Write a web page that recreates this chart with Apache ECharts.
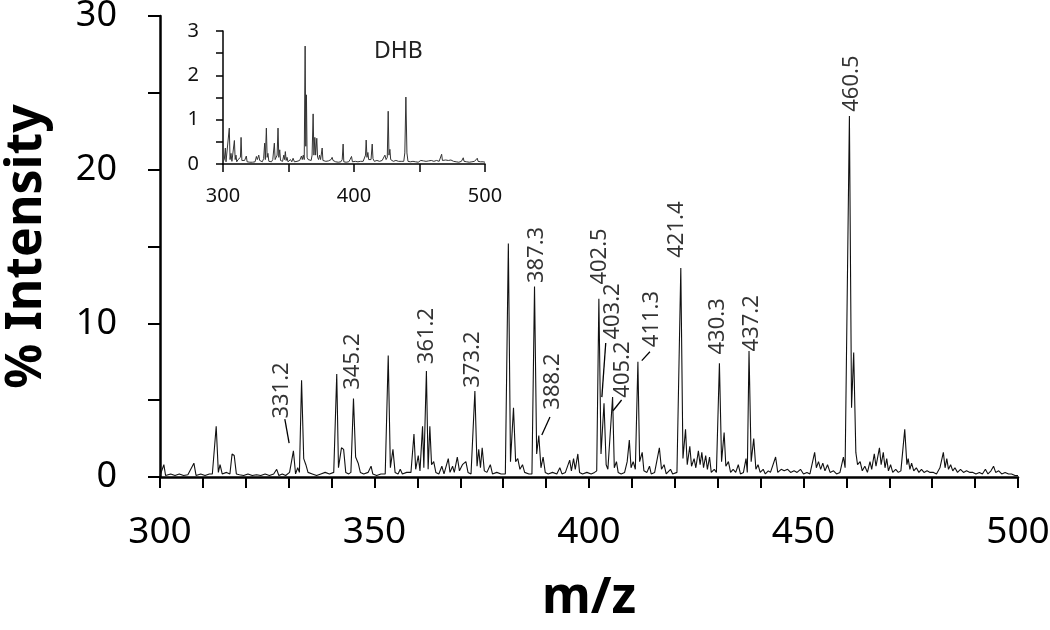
<!DOCTYPE html>
<html>
<head>
<meta charset="utf-8">
<script src="https://cdn.jsdelivr.net/npm/echarts@6/dist/echarts.min.js"></script>
<style>html,body{margin:0;padding:0;background:#fff;}#c{width:1050px;height:630px;}</style>
</head>
<body>
<div id="c"></div>
<script>
// Main spectrum: [m/z, % intensity]
const mainSpectrum = [
[300.0,0.1],[300.9,0.8],[301.3,0.1],[302.5,0.2],[303.5,0.1],[304.5,0.2],[305.5,0.1],[306.5,0.15],[307.9,0.9],[308.4,0.1],
[309.5,0.2],[310.5,0.1],[311.5,0.2],[312.2,0.2],[313.1,3.3],[313.6,0.3],[314.0,0.8],[314.5,0.2],[315.5,0.3],[316.3,0.2],
[316.8,1.5],[317.3,1.4],[317.8,0.2],[318.5,0.15],[319.5,0.1],[320.5,0.2],[321.5,0.1],[322.5,0.15],[323.5,0.1],[324.5,0.2],
[325.5,0.1],[326.5,0.2],[327.2,0.5],[327.7,0.1],[328.5,0.2],[329.3,0.1],[330.2,0.3],[330.5,0.2],[331.1,1.7],[331.6,0.2],
[332.1,0.6],[332.5,0.3],[333.0,6.3],[333.5,1.2],[334.0,0.8],[334.5,0.3],[335.5,0.2],[336.5,0.1],[337.5,0.2],[338.5,0.3],
[339.5,0.2],[340.5,0.3],[341.2,6.7],[341.6,0.6],[342.3,1.9],[342.8,1.8],[343.3,0.3],[344.0,0.2],[344.5,0.3],[345.1,5.1],
[345.6,1.3],[346.2,0.9],[346.7,0.3],[347.5,0.2],[348.5,0.3],[349.2,0.7],[349.6,0.2],[350.5,0.1],[351.5,0.2],[352.5,0.2],
[353.2,7.9],[353.7,0.6],[354.3,1.8],[354.8,0.3],[355.5,0.2],[356.0,0.5],[356.5,0.2],[357.5,0.3],[358.5,0.3],[359.2,2.8],
[359.6,0.5],[360.2,1.4],[360.6,0.4],[361.2,3.3],[361.5,0.6],[362.1,6.9],[362.5,0.5],[362.9,3.3],[363.3,0.8],[363.8,1.0],
[364.3,0.3],[365.0,0.2],[365.7,0.7],[366.2,0.2],[367.2,1.2],[367.6,0.3],[368.2,0.7],[368.6,0.3],[369.3,1.3],[369.8,0.4],
[370.5,0.8],[371.3,1.0],[371.8,0.3],[372.5,0.2],[373.4,5.6],[373.9,0.7],[374.3,1.8],[374.7,0.6],[375.1,1.9],[375.6,0.4],
[376.2,0.3],[377.0,0.8],[377.5,0.2],[378.5,0.3],[379.5,0.2],[380.5,0.2],[381.2,15.2],[381.7,1.0],[382.4,4.5],[382.9,1.0],
[383.4,1.2],[383.9,0.5],[384.5,0.8],[385.0,0.3],[386.0,0.2],[386.7,0.2],[387.3,12.4],[387.8,1.5],[388.3,2.7],[388.8,0.6],
[389.3,1.3],[389.8,0.3],[390.5,0.2],[391.5,0.3],[392.5,0.2],[393.2,0.6],[393.7,0.2],[394.5,0.3],[395.5,1.1],[395.9,0.4],
[396.4,1.2],[396.8,0.5],[397.4,1.5],[397.8,0.3],[398.5,0.2],[399.5,0.3],[400.5,0.2],[401.3,0.3],[401.8,0.4],[402.3,11.6],
[402.8,1.5],[403.5,4.8],[404.0,0.8],[404.4,0.5],[405.5,5.2],[405.9,0.6],[406.4,1.0],[406.8,0.3],[407.5,0.2],[408.3,0.3],
[408.9,1.0],[409.4,2.4],[409.8,0.6],[410.3,1.0],[410.8,0.5],[411.4,7.5],[411.8,1.0],[412.4,1.6],[412.8,0.4],[413.5,0.3],
[414.1,0.7],[414.5,0.2],[415.3,0.3],[416.4,1.9],[416.9,0.5],[417.5,0.8],[418.0,0.2],[419.0,0.5],[419.5,0.2],[420.5,0.3],
[421.4,13.6],[421.9,1.2],[422.5,3.1],[422.9,0.8],[423.5,2.0],[423.9,0.7],[424.5,1.2],[424.9,0.6],[425.5,1.7],[425.9,0.8],
[426.3,1.6],[426.7,0.6],[427.2,1.4],[427.6,0.5],[428.1,1.3],[428.5,0.3],[429.2,0.5],[429.7,0.3],[430.4,7.4],[430.9,1.0],
[431.5,2.9],[431.9,0.7],[432.5,1.0],[433.0,0.3],[433.6,0.5],[434.2,0.3],[434.8,0.8],[435.3,0.2],[436.0,0.3],[436.6,1.2],
[436.9,0.3],[437.3,8.2],[437.8,1.0],[438.4,2.5],[438.9,0.5],[439.4,0.8],[439.9,0.3],[440.6,0.5],[441.1,0.2],[441.8,0.4],
[442.3,0.3],[443.5,1.3],[444.0,0.3],[444.8,0.5],[445.5,0.4],[446.3,0.5],[447.0,0.3],[447.8,0.4],[448.5,0.3],[449.3,0.5],
[450.0,0.2],[450.8,0.3],[451.5,0.2],[452.6,1.6],[453.0,0.6],[453.5,1.0],[454.0,0.5],[454.5,0.9],[455.0,0.4],[455.6,0.8],
[456.2,0.3],[457.0,0.4],[457.7,0.2],[458.5,0.3],[459.3,1.3],[459.7,0.6],[460.7,23.5],[461.2,4.5],[461.7,8.1],[462.2,1.6],
[462.6,0.8],[463.2,1.0],[463.7,0.4],[464.3,0.7],[464.9,0.3],[465.5,1.0],[465.9,0.5],[466.5,1.5],[466.9,0.7],[467.7,1.9],
[468.1,0.8],[468.6,1.6],[469.0,0.6],[469.4,1.2],[469.8,0.4],[470.3,0.8],[470.8,0.3],[471.5,0.5],[472.1,0.3],[472.7,0.4],
[473.6,3.1],[474.1,0.8],[474.4,1.2],[474.8,0.5],[475.2,0.9],[475.7,0.4],[476.3,0.6],[476.9,0.3],[477.5,0.5],[478.1,0.3],
[478.8,0.4],[479.5,0.3],[480.3,0.3],[481.0,0.2],[481.8,0.6],[482.6,1.6],[483.0,0.6],[483.4,1.2],[483.8,0.5],[484.3,0.8],
[484.8,0.4],[485.3,0.6],[485.9,0.3],[486.6,0.5],[487.3,0.3],[488.0,0.4],[488.8,0.3],[489.5,0.3],[490.2,0.2],[491.0,0.3],
[491.7,0.2],[492.4,0.5],[493.0,0.2],[493.7,0.4],[494.3,0.7],[494.8,0.3],[495.5,0.4],[496.2,0.2],[497.0,0.3],[497.8,0.2],
[498.5,0.2],[499.3,0.1],[500.0,0.1]
];

// Inset (DHB) spectrum: [m/z, % intensity]
const insetSpectrum = [
[300.0,0.05],[301.0,0.1],[301.8,0.36],[302.3,0.05],[303.5,0.08],[304.8,0.81],[305.4,0.1],[306.1,0.24],[306.8,0.06],[307.8,0.1],
[308.7,0.53],[309.3,0.1],[309.9,0.2],[310.5,0.05],[311.5,0.1],[312.3,0.08],[313.3,0.15],[313.8,0.6],[314.4,0.08],[315.5,0.05],
[316.5,0.08],[317.8,0.18],[318.4,0.05],[319.5,0.06],[320.5,0.04],[321.5,0.08],[322.5,0.04],[323.5,0.07],[324.5,0.05],[325.5,0.17],
[326.2,0.1],[327.3,0.2],[328.0,0.08],[329.0,0.1],[330.0,0.05],[331.0,0.12],[331.8,0.47],[332.3,0.1],[333.1,0.81],[333.7,0.15],
[334.3,0.24],[335.0,0.06],[336.0,0.08],[337.0,0.05],[338.0,0.1],[339.2,0.47],[339.8,0.1],[340.5,0.06],[341.3,0.2],[342.0,0.81],
[342.6,0.15],[343.3,0.32],[343.9,0.08],[344.8,0.1],[345.5,0.06],[346.4,0.2],[347.0,0.1],[347.6,0.28],[348.2,0.08],[348.9,0.15],
[349.6,0.05],[350.5,0.06],[351.5,0.1],[352.5,0.05],[353.5,0.13],[354.5,0.05],[355.5,0.08],[356.5,0.06],[357.5,0.1],[358.5,0.08],
[359.3,0.12],[359.9,0.18],[360.5,0.1],[361.3,0.2],[362.0,0.1],[362.7,2.66],[363.2,0.4],[363.7,1.56],[364.2,0.15],[365.0,0.1],
[365.8,0.08],[366.5,0.1],[367.3,0.08],[368.0,0.2],[368.8,1.13],[369.4,0.2],[370.1,0.6],[370.7,0.2],[371.6,0.58],[372.2,0.15],
[373.0,0.1],[373.7,0.2],[374.5,0.1],[375.7,0.36],[376.3,0.08],[377.5,0.05],[378.5,0.06],[379.5,0.05],[380.5,0.07],[381.5,0.05],
[382.5,0.1],[383.3,0.15],[384.0,0.08],[385.0,0.12],[386.0,0.05],[387.0,0.06],[388.0,0.04],[389.0,0.06],[390.0,0.05],[391.0,0.1],
[391.7,0.45],[392.2,0.05],[393.0,0.06],[394.0,0.04],[395.0,0.08],[396.0,0.05],[397.0,0.1],[398.1,0.17],[398.8,0.05],[400.0,0.04],
[401.0,0.06],[402.0,0.04],[403.0,0.05],[404.0,0.04],[405.0,0.06],[406.0,0.05],[407.0,0.06],[408.0,0.1],[408.8,0.2],[409.3,0.54],
[409.9,0.15],[410.6,0.26],[411.2,0.1],[412.0,0.08],[413.0,0.1],[413.9,0.45],[414.5,0.12],[415.5,0.06],[416.5,0.05],[417.5,0.08],
[418.5,0.05],[419.5,0.06],[420.5,0.04],[421.5,0.08],[422.5,0.05],[423.6,0.2],[424.5,0.1],[425.4,0.15],[426.1,1.19],[426.7,0.2],
[427.4,0.33],[428.0,0.1],[429.0,0.08],[430.0,0.06],[431.0,0.05],[432.0,0.08],[433.0,0.05],[434.0,0.06],[435.0,0.04],[436.0,0.06],
[437.0,0.05],[438.0,0.06],[438.8,0.25],[439.6,1.51],[440.4,0.25],[441.2,0.06],[442.0,0.04],[443.0,0.05],[444.0,0.04],[445.0,0.06],
[446.0,0.04],[447.0,0.05],[448.0,0.06],[449.0,0.04],[450.0,0.05],[451.0,0.08],[452.0,0.05],[453.0,0.07],[454.0,0.05],[455.0,0.06],
[456.0,0.04],[457.0,0.07],[458.0,0.05],[459.0,0.08],[460.0,0.05],[461.0,0.06],[462.0,0.04],[463.0,0.08],[464.0,0.05],[465.0,0.06],
[466.0,0.08],[466.9,0.22],[467.5,0.08],[468.2,0.1],[469.0,0.06],[470.0,0.09],[471.0,0.05],[472.0,0.08],[473.0,0.06],[474.0,0.09],
[475.0,0.05],[476.0,0.06],[477.0,0.08],[478.0,0.05],[479.0,0.07],[480.0,0.04],[481.0,0.08],[482.0,0.06],[483.4,0.14],[484.0,0.06],
[485.0,0.08],[486.0,0.05],[487.0,0.06],[488.0,0.04],[489.0,0.06],[490.0,0.05],[491.0,0.08],[492.0,0.06],[493.0,0.08],[494.1,0.13],
[494.7,0.06],[495.5,0.1],[496.5,0.05],[497.5,0.07],[498.5,0.05],[499.5,0.08],[500.0,0.04]
];

// Peak annotation texts and their (text-centre) positions in data units
const peakLabels = ['331.2','345.2','361.2','373.2','387.3','388.2','402.5','403.2','405.2','411.3','421.4','430.3','437.2','460.5'];
const labelMz    = [328.4, 344.9, 362.2, 373.0, 387.9, 391.6, 402.4, 405.6, 407.9, 414.6, 420.4, 430.0, 437.9, 461.2];
const labelInt   = [5.63, 7.51, 9.17, 7.64, 14.45, 6.21, 14.35, 10.77, 6.99, 10.28, 16.1, 9.8, 10.0, 25.6];

// Leader lines from label to peak: [[mz1,int1],[mz2,int2]]
const leaderLines = [
  [[329.1,3.77],[330.1,2.21]],
  [[390.9,3.90],[389.0,2.73]],
  [[403.9,8.72],[403.0,5.2]],
  [[407.6,5.01],[405.6,4.31]],
  [[414.2,8.15],[412.3,7.57]]
];

const mainXTicks = [300, 350, 400, 450, 500];
const mainYTicks = [0, 10, 20, 30];
const insetXTicks = [300, 400, 500];
const insetYTicks = [0, 1, 2, 3];

const FONT = '"Noto Sans", "Open Sans", sans-serif';
const chart = echarts.init(document.getElementById('c'), null, {renderer: 'canvas'});

const option = {
  animation: false,
  backgroundColor: '#ffffff',
  title: {
    text: 'DHB', left: 369, top: 35,
    textStyle: {fontFamily: FONT, fontSize: 23, fontWeight: 'normal', color: '#222'}
  },
  grid: [
    {left: 160, top: 16, width: 858, height: 461, outerBoundsMode: 'none', containLabel: false},
    {left: 223, top: 31, width: 262, height: 133, outerBoundsMode: 'none', containLabel: false}
  ],
  xAxis: [
    {
      gridIndex: 0, type: 'value', min: 300, max: 500, interval: 10,
      name: 'm/z', nameLocation: 'middle', nameGap: 97,
      nameTextStyle: {fontFamily: FONT, fontSize: 50, fontWeight: 'bold', color: '#000'},
      axisLine: {show: true, onZero: false, lineStyle: {color: '#000', width: 2.5}},
      axisTick: {show: true, inside: false, length: 11, lineStyle: {color: '#000', width: 2}},
      axisLabel: {
        margin: 37, fontFamily: FONT, fontSize: 37, color: '#000',
        formatter: v => mainXTicks.includes(v) ? String(v) : ''
      },
      splitLine: {show: false}
    },
    {
      gridIndex: 1, type: 'value', min: 300, max: 500, interval: 50,
      axisLine: {show: true, onZero: false, lineStyle: {color: '#000', width: 1.5}},
      axisTick: {show: true, length: 8, lineStyle: {color: '#000', width: 1.5}},
      axisLabel: {
        margin: 22, fontFamily: FONT, fontSize: 20, color: '#111',
        formatter: v => insetXTicks.includes(v) ? String(v) : ''
      },
      splitLine: {show: false}
    }
  ],
  yAxis: [
    {
      gridIndex: 0, type: 'value', min: 0, max: 30, interval: 5,
      name: '% Intensity', nameLocation: 'middle', nameGap: 108, nameRotate: 90,
      nameTextStyle: {fontFamily: FONT, fontSize: 50, fontWeight: 'bold', color: '#000'},
      axisLine: {show: true, onZero: false, lineStyle: {color: '#000', width: 2.5}},
      axisTick: {show: true, length: 12, lineStyle: {color: '#000', width: 2}},
      axisLabel: {
        margin: 43, fontFamily: FONT, fontSize: 36, color: '#000',
        formatter: v => mainYTicks.includes(v) ? String(v) : ''
      },
      splitLine: {show: false}
    },
    {
      gridIndex: 1, type: 'value', min: 0, max: 3, interval: 0.5,
      axisLine: {show: true, onZero: false, lineStyle: {color: '#000', width: 1.5}},
      axisTick: {show: true, length: 7, lineStyle: {color: '#000', width: 1.5}},
      axisLabel: {
        margin: 24, fontFamily: FONT, fontSize: 20, color: '#111',
        formatter: v => insetYTicks.includes(v) ? String(v) : ''
      },
      splitLine: {show: false}
    }
  ],
  series: [
    {
      type: 'line', xAxisIndex: 0, yAxisIndex: 0, data: mainSpectrum,
      symbol: 'none', smooth: false,
      lineStyle: {color: '#111', width: 1.1}
    },
    {
      type: 'line', xAxisIndex: 1, yAxisIndex: 1, data: insetSpectrum,
      symbol: 'none', smooth: false,
      lineStyle: {color: '#333', width: 1}
    },
    {
      type: 'lines', coordinateSystem: 'cartesian2d', xAxisIndex: 0, yAxisIndex: 0,
      polyline: false, symbol: 'none',
      lineStyle: {color: '#000', width: 1.3, opacity: 1},
      data: leaderLines.map(c => ({coords: c}))
    },
    {
      type: 'scatter', xAxisIndex: 0, yAxisIndex: 0, symbolSize: 1,
      itemStyle: {color: 'rgba(0,0,0,0)'},
      label: {
        show: true, position: 'inside', rotate: 90, formatter: '{b}',
        fontFamily: FONT, fontSize: 22, color: '#000', align: 'center', verticalAlign: 'middle'
      },
      data: peakLabels.map((t, i) => ({name: t, value: [labelMz[i], labelInt[i]]}))
    }
  ]
};
chart.setOption(option);
</script>
</body>
</html>
